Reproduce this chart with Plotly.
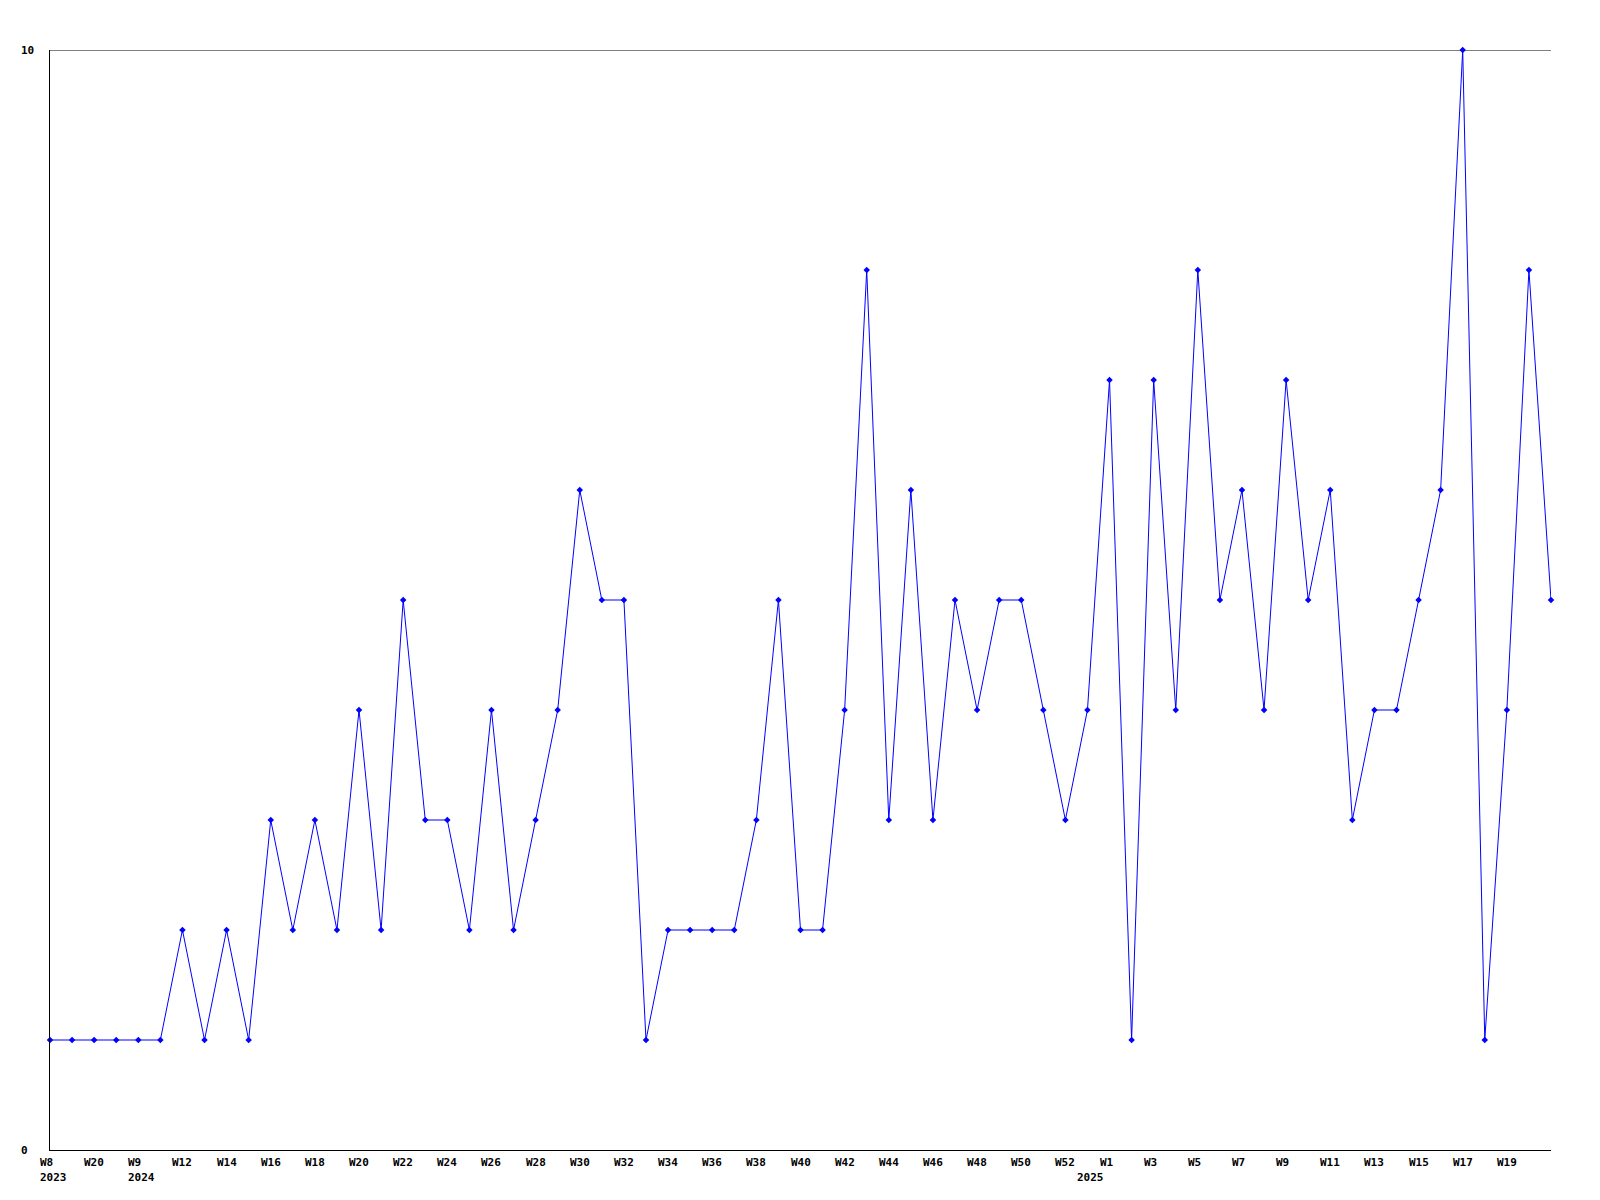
import plotly.graph_objects as go

# Week tick labels shown under every other point (index 0, 2, 4, ...)
week_labels = ["W8", "W20", "W9", "W12", "W14", "W16", "W18", "W20",
               "W22", "W24", "W26", "W28", "W30", "W32", "W34", "W36", "W38", "W40",
               "W42", "W44", "W46", "W48", "W50", "W52", "W1", "W3", "W5",
               "W7", "W9", "W11", "W13", "W15", "W17", "W19"]

# Year labels and the index of the first point of each year
year_labels = ["2023", "2024", "2025"]
year_first_idx = [0, 4, 47]

values = [1, 1, 1, 1, 1, 1, 2, 1, 2, 1,
          3, 2, 3, 2, 4, 2, 5, 3, 3, 2,
          4, 2, 3, 4, 6, 5, 5, 1, 2, 2,
          2, 2, 3, 5, 2, 2, 4, 8, 3, 6,
          3, 5, 4, 5, 5, 4, 3, 4, 7, 1,
          7, 4, 8, 5, 6, 4, 7, 5, 6, 3,
          4, 4, 5, 6, 10, 1, 4, 8, 5]

y_min, y_max = 0, 10

x_idx = list(range(len(values)))
week_pos = x_idx[::2][:len(week_labels)]

fig = go.Figure()
fig.add_trace(go.Scatter(
    x=x_idx, y=values, mode="lines+markers",
    line=dict(color="#0000ff", width=1),
    marker=dict(color="#0000ff", size=5, symbol="diamond"),
    showlegend=False, cliponaxis=False,
))

font = dict(family="DejaVu Sans Mono", size=11, color="black")
annotations = []
for pos, lab in zip(week_pos, week_labels):
    annotations.append(dict(x=pos, xref="x", y=0, yref="paper", text="<b>%s</b>" % lab,
                            showarrow=False, xanchor="left", yanchor="top",
                            xshift=-11, yshift=-5, font=font, borderpad=0))
for pos, lab in zip(year_first_idx, year_labels):
    annotations.append(dict(x=pos, xref="x", y=0, yref="paper", text="<b>%s</b>" % lab,
                            showarrow=False, xanchor="left", yanchor="top",
                            xshift=-11, yshift=-20, font=font, borderpad=0))
for val in (y_min, y_max):
    annotations.append(dict(x=0, xref="paper", y=val, yref="y", text="<b>%d</b>" % val,
                            showarrow=False, xanchor="left", yanchor="middle",
                            xshift=-30, font=font, borderpad=0))

fig.update_layout(
    width=1600, height=1200,
    margin=dict(l=42, r=57, t=42, b=58, autoexpand=False),
    plot_bgcolor="white", paper_bgcolor="white",
    font=font,
    annotations=annotations,
    xaxis=dict(
        range=[0, len(values) - 1], automargin=False,
        showticklabels=False,
        showline=True, linecolor="black", linewidth=1,
        showgrid=False, zeroline=False, ticks="",
    ),
    yaxis=dict(
        range=[y_min, y_max], automargin=False,
        showticklabels=False,
        showline=True, linecolor="black", linewidth=1,
        showgrid=False, zeroline=False, ticks="",
    ),
)
# top border line at the maximum value (no right border in the reference)
fig.add_shape(type="line", xref="paper", yref="y", x0=0, x1=1, y0=y_max, y1=y_max,
              line=dict(color="black", width=1), layer="below")

fig.write_html("out.html")
